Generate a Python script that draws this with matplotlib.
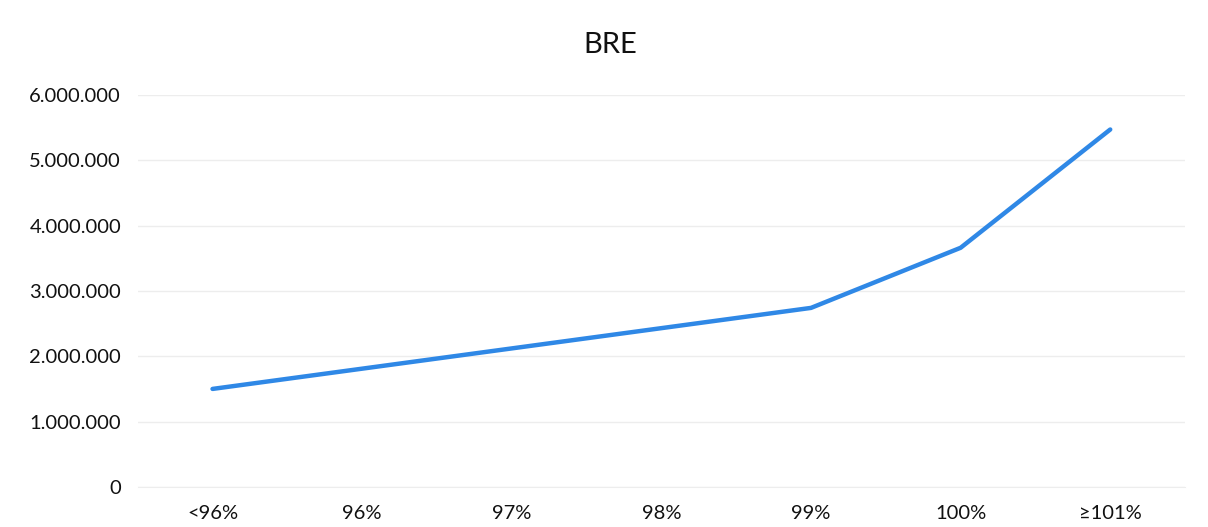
import matplotlib.pyplot as plt
from matplotlib.ticker import FuncFormatter

categories = ['<96%', '96%', '97%', '98%', '99%', '100%', '≥101%']
bre = [1500000, 1810000, 2120000, 2430000, 2740000, 3660000, 5470000]

plt.rcParams['font.family'] = ['Lato', 'DejaVu Sans']

fig = plt.figure(figsize=(12.08, 5.27), dpi=100)
ax = fig.add_axes([0.114, 0.076, 0.867, 0.744])

x = range(len(categories))
ax.plot(x, bre, color='#2F88E6', linewidth=3.2, solid_capstyle='round')

ax.set_xlim(-0.5, len(categories) - 0.5)
ax.set_ylim(0, 6000000)
ax.set_yticks(range(0, 6000001, 1000000))
ax.yaxis.set_major_formatter(FuncFormatter(lambda v, p: f'{int(v):,}'.replace(',', '.')))
ax.set_xticks(list(x))
ax.set_xticklabels(categories)

ax.grid(axis='y', color='#EDEDED', linewidth=1)
ax.set_axisbelow(True)
for s in ['top', 'right', 'left']:
    ax.spines[s].set_visible(False)
ax.spines['bottom'].set_color('#EDEDED')
ax.tick_params(axis='both', length=0, labelsize=14.5, colors='#111111')
ax.tick_params(axis='y', pad=12)
ax.tick_params(axis='x', pad=13)

fig.text(0.505, 0.915, 'BRE', fontsize=21, color='#111111', ha='center', va='center')

fig.savefig('out.png', dpi=100)
